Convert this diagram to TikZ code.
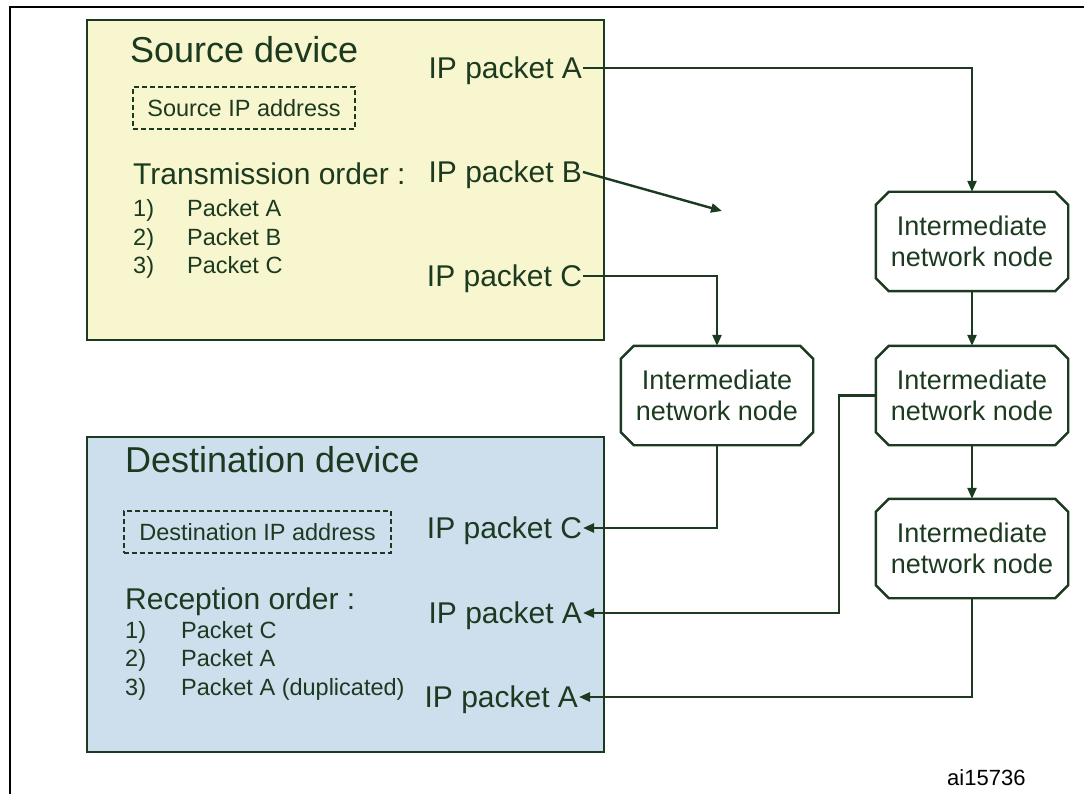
\documentclass[tikz,border=0pt]{standalone}
\usepackage{fontspec}
\setmainfont{Liberation Sans}
\usetikzlibrary{arrows.meta,calc}
\definecolor{ink}{RGB}{28,58,32}
\definecolor{srcfill}{RGB}{248,246,207}
\definecolor{dstfill}{RGB}{205,223,237}
\begin{document}
\begin{tikzpicture}[x=1pt,y=-1pt,
  txt/.style={inner sep=0pt, text=ink, anchor=west},
  big/.style={txt, font=\fontsize{36}{40}\selectfont, text height=26pt, text depth=0pt},
  mid/.style={txt, font=\fontsize{30}{34}\selectfont, text height=21.6pt, text depth=0pt},
  small/.style={txt, font=\fontsize{23.5}{28}\selectfont, text height=17pt, text depth=0pt},
  pkt/.style={mid, anchor=east, outer sep=1pt},
  device/.style={draw=ink, line width=2.6pt, inner sep=0pt},
  addr/.style={draw=ink, line width=1.5pt, dash pattern=on 5pt off 3pt,
    text=ink, font=\fontsize{23.5}{28}\selectfont, inner sep=0pt,
    text height=17pt, text depth=0pt},
  inode/.style={rectangle, minimum width=192pt, minimum height=99pt, inner sep=0pt,
    align=center, text=ink, font=\fontsize{27}{31}\selectfont},
  link/.style={draw=ink, line width=2.4pt, -{Triangle[length=11pt,width=9pt]}},
  frame/.style={draw=black, line width=2.8pt}
]
\useasboundingbox (0,0) rectangle (1084,794);

% outer frame (top and left edges)
\draw[frame] (10,794) -- (10,7) -- (1084,7);

% device boxes
\node[device, fill=srcfill, minimum width=517pt, minimum height=320pt] (src) at (345.5,180) {};
\node[device, fill=dstfill, minimum width=517pt, minimum height=315pt] (dst) at (345.5,594.5) {};

% source device contents
\node[big] (srctitle) at (130,50) {Source device};
\node[addr, minimum width=222pt, minimum height=42pt] (srcaddr) at (244,108) {Source IP address};
\node[mid] (txorder) at (133,174) {Transmission order :};
\node[small] (tx1) at (133,208) {\makebox[54pt][l]{1)}Packet A};
\node[small] (tx2) at (133,237) {\makebox[54pt][l]{2)}Packet B};
\node[small] (tx3) at (133,265) {\makebox[54pt][l]{3)}Packet C};
\node[pkt] (pA) at (583,68) {IP packet A};
\node[pkt] (pB) at (583,172) {IP packet B};
\node[pkt] (pC) at (583,276) {IP packet C};

% destination device contents
\node[big] (dsttitle) at (125,459) {Destination device};
\node[addr, minimum width=267pt, minimum height=42pt] (dstaddr) at (257.5,532) {Destination IP address};
\node[mid] (rxorder) at (125,599) {Reception order :};
\node[small] (rx1) at (125,630) {\makebox[56pt][l]{1)}Packet C};
\node[small] (rx2) at (125,658) {\makebox[56pt][l]{2)}Packet A};
\node[small] (rx3) at (125,687) {\makebox[56pt][l]{3)}Packet A (duplicated)};
\node[pkt] (dC) at (583,528) {IP packet C};
\node[pkt] (dA1) at (583,613) {IP packet A};
\node[pkt] (dA2) at (579,697) {IP packet A};

% intermediate network nodes
\node[inode] (n1) at (972,241.5) {Intermediate\\network node};
\node[inode] (n2) at (972,395.5) {Intermediate\\network node};
\node[inode] (n3) at (972,548.5) {Intermediate\\network node};
\node[inode] (nL) at (717,395.5) {Intermediate\\network node};
\foreach \n in {n1,n2,n3,nL}{
  \draw[ink, line width=2.4pt, line join=miter]
    ($(\n.north west)+(13,0)$) -- ($(\n.north east)+(-13,0)$)
    -- ($(\n.north east)+(0,13)$) -- ($(\n.south east)+(0,-13)$)
    -- ($(\n.south east)+(-13,0)$) -- ($(\n.south west)+(13,0)$)
    -- ($(\n.south west)+(0,-13)$) -- ($(\n.north west)+(0,13)$) -- cycle;
}

% packet B leaves towards nowhere
\coordinate (lostB) at (722,211);

% connectors
\draw[link] (pA.east) -| (n1.north);
\draw[link] (pB.east) -- (lostB);
\draw[link] (pC.east) -| (nL.north);
\draw[link] (n1.south) -- (n2.north);
\draw[link] (n2.south) -- (n3.north);
\draw[link] (nL.south) |- (dC.east);
\draw[link] (n2.west) -- ++(-37,0) |- (dA1.east);
\draw[link] (n3.south) |- (dA2.east);

% figure reference
\node[txt, text=black, font=\fontsize{22}{26}\selectfont] (ref) at (947,778) {ai15736};
\end{tikzpicture}
\end{document}
